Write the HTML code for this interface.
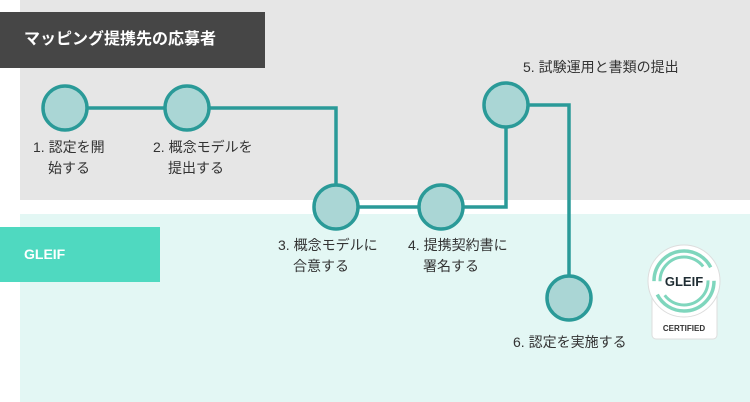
<!DOCTYPE html>
<html><head><meta charset="utf-8"><style>
body{margin:0;width:750px;height:402px;position:relative;background:#fff;font-family:"Liberation Sans","Noto Sans CJK JP",sans-serif;overflow:hidden}
.a{position:absolute}
</style></head><body>
<div class="a" style="left:20px;top:0;width:730px;height:200px;background:#e6e6e6"></div>
<div class="a" style="left:20px;top:214px;width:730px;height:188px;background:#e3f7f4"></div>
<div class="a" style="left:0;top:12px;width:265px;height:56px;background:#464646;color:#fff;font-size:16px;font-weight:bold;line-height:56px;padding-left:24px;box-sizing:border-box">マッピング提携先の応募者</div>
<div class="a" style="left:0;top:227px;width:160px;height:55px;background:#4fd9c0;color:#fff;font-size:14px;font-weight:bold;line-height:55px;padding-left:24px;box-sizing:border-box">GLEIF</div>
<svg class="a" style="left:0;top:0" width="750" height="402">
<g fill="none" stroke="#2a9a98" stroke-width="3.5">
<path d="M65 108H187H336V207H441H506V105H569V298"/>
</g>
<g fill="#aad6d5" stroke="#2a9a98" stroke-width="3.5">
<circle cx="65" cy="108" r="22"/><circle cx="187" cy="108" r="22"/>
<circle cx="336" cy="207" r="22"/><circle cx="441" cy="207" r="22"/>
<circle cx="506" cy="105" r="22"/><circle cx="569" cy="298" r="22"/>
</g>
<rect x="652" y="265" width="65" height="74" rx="4" fill="#fff" stroke="#ddd"/>
<circle cx="684" cy="281" r="36" fill="#fff" stroke="#ddd"/>
<circle cx="684" cy="281" r="30" fill="none" stroke="#7fd6bd" stroke-width="3.5" stroke-dasharray="80 14"/>
<circle cx="684" cy="281" r="24" fill="none" stroke="#7fd6bd" stroke-width="3" stroke-dasharray="60 15"/>
<text x="684" y="286" font-size="13" font-weight="bold" fill="#1f2d33" text-anchor="middle" font-family="Liberation Sans">GLEIF</text>
<text x="684" y="331" font-size="8" font-weight="bold" fill="#333" text-anchor="middle" font-family="Liberation Sans">CERTIFIED</text>
<g font-size="14" fill="#333" font-family="Liberation Sans, Noto Sans CJK JP, sans-serif">
<text x="33" y="152">1. 認定を開</text><text x="48" y="173">始する</text>
<text x="153" y="152">2. 概念モデルを</text><text x="168" y="173">提出する</text>
<text x="278" y="250">3. 概念モデルに</text><text x="293" y="271">合意する</text>
<text x="408" y="250">4. 提携契約書に</text><text x="423" y="271">署名する</text>
<text x="523" y="72">5. 試験運用と書類の提出</text>
<text x="513" y="347">6. 認定を実施する</text>
</g>
</svg>
</body></html>
